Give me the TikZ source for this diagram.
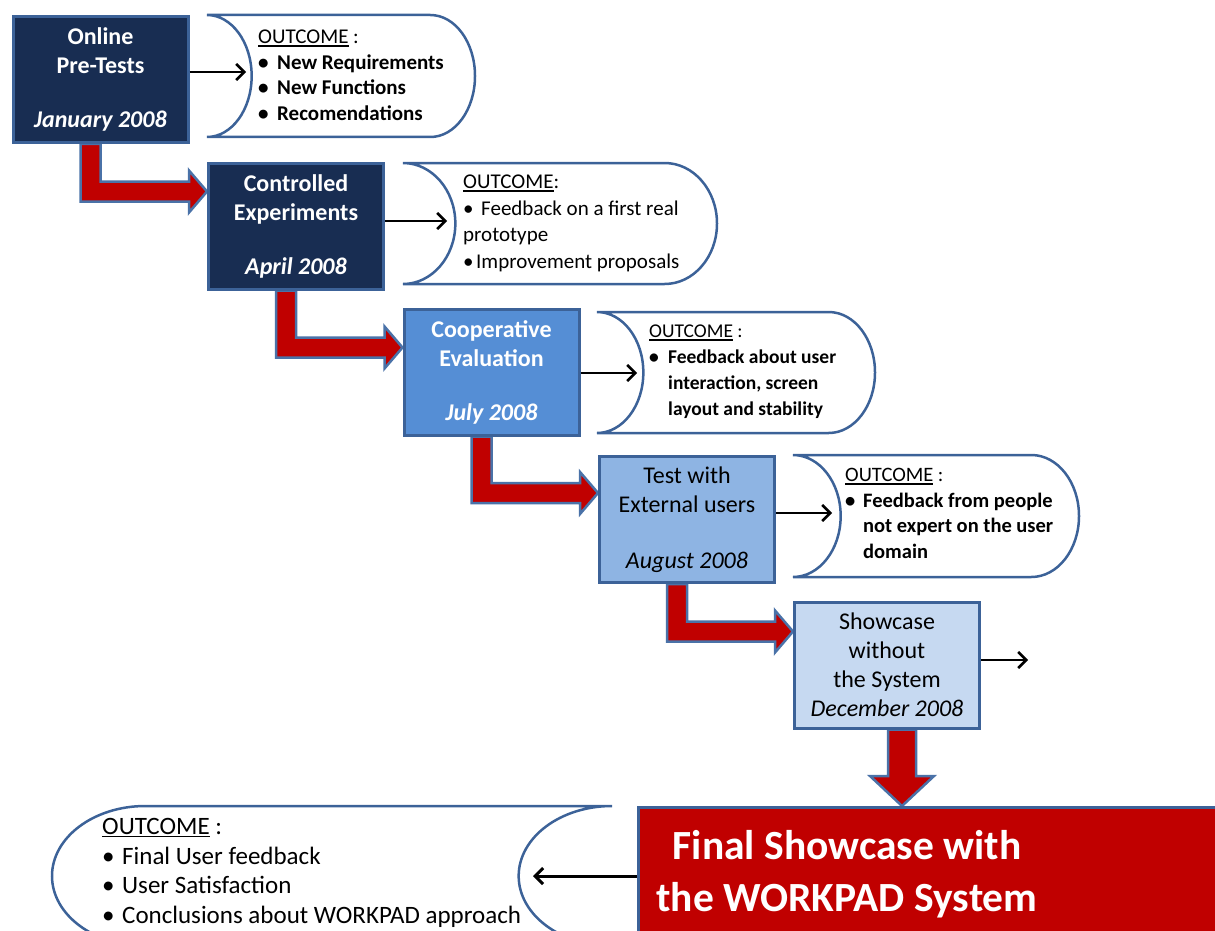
\documentclass[tikz,border=0pt]{standalone}
\usepackage{fontspec}
\setmainfont{Carlito}
\usetikzlibrary{arrows.meta,calc,backgrounds}
\definecolor{navy}{HTML}{182D52}
\definecolor{edge}{HTML}{3C6298}
\definecolor{midblue}{HTML}{558ED5}
\definecolor{lightblue}{HTML}{8EB4E3}
\definecolor{paleblue}{HTML}{C6D9F1}
\definecolor{darkred}{HTML}{C00000}
\definecolor{arrowedge}{HTML}{4A72A8}
\newcommand\bl[1][19pt]{\makebox[#1][l]{\textbullet}}
\newcommand\uline[1]{\setbox0\hbox{#1}\rlap{\rule[-3pt]{\wd0}{1.6pt}}\box0}
\newcommand\outshape[4]{% L T R B (y downward), mirrored stored-data shape
  \pgfmathsetmacro\orx{(#3-#1)/6}\pgfmathsetmacro\ory{(#4-#2)/2}
  \draw[outline] (#1,-#2) -- ({#3-\orx},-#2)
     arc[start angle=90,end angle=-90,x radius=\orx pt,y radius=\ory pt]
     -- (#1,-#4)
     arc[start angle=-90,end angle=90,x radius=\orx pt,y radius=\ory pt] -- cycle;}
\newcommand\elbow[3]{%
  \path[redarrow] let \p1=(#1.south), \p2=([yshift=-#3pt]#2.north west) in
   (\x1-20,\y1) -- (\x1-20,\y2-10) -- (\x2-18,\y2-10) -- (\x2-18,\y2-21) -- (\x2,\y2)
   -- (\x2-18,\y2+21) -- (\x2-18,\y2+10) -- (\x1,\y2+10) -- (\x1,\y1) -- cycle;}
\begin{document}
\begin{tikzpicture}[x=1pt,y=1pt,
  stage/.style={rectangle, draw=edge, line width=3pt, minimum width=175pt,
    minimum height=126pt, align=center, inner sep=0pt,
    font=\fontsize{24}{29}\selectfont},
  darkstage/.style={stage, fill=navy, text=white,
    font=\fontsize{24}{29}\selectfont\bfseries},
  outline/.style={draw=edge, line width=2.5pt, fill=white},
  outtext/.style={anchor=north west, align=left, inner sep=0pt},
  link/.style={line width=2.6pt, -{Straight Barb[length=8pt,width=16pt]}},
  redarrow/.style={fill=darkred, draw=arrowedge, line width=2.5pt, line join=miter}]
\useasboundingbox (0,0) rectangle (1215,-931);
\clip (0,0) rectangle (1215,-931);

% stage boxes
\node[darkstage] (b1) at (100.5,-79.5) {Online\\Pre-Tests\\[25pt]\textit{January 2008}};
\node[darkstage] (b2) at (296,-226) {Controlled\\Experiments\\[25pt]\textit{April 2008}};
\node[stage, fill=midblue, text=white, font=\fontsize{24}{29}\selectfont\bfseries] (b3) at (491.5,-372) {Cooperative\\Evaluation\\[25pt]\textit{July 2008}};
\node[stage, fill=lightblue] (b4) at (687,-519.5) {Test with\\External users\\[27pt]\textit{August 2008}};
\node[stage, fill=paleblue, minimum width=185pt] (b5) at (887,-665) {Showcase\\without\\the System\\\textit{December 2008}};
\node[rectangle, draw=edge, line width=3pt, fill=darkred, minimum width=600pt,
  minimum height=140pt, anchor=north west] (fin) at (637,-806) {};
\node[font=\fontsize{41.5}{52}\selectfont\bfseries, text=white, align=center] (fint) at (847,-874) {Final Showcase with\\the WORKPAD System};

% outcome shapes
\outshape{207}{15}{475}{137}
\outshape{403}{163}{717}{284}
\outshape{597}{312}{875}{433}
\outshape{793}{455}{1079}{577}
\pgfmathsetmacro\frx{(612-52)/6}
\draw[outline] ({52+\frx},-806) -- (612,-806)
  arc[start angle=90,end angle=270,x radius=\frx pt,y radius=70pt]
  -- ({52+\frx},-946)
  arc[start angle=270,end angle=90,x radius=\frx pt,y radius=70pt] -- cycle;

% outcome texts
\node[outtext, font=\fontsize{21}{25.5}\selectfont\bfseries] (t1) at (258,-30)
  {\uline{\mdseries OUTCOME}\mdseries\ :\\\bl New Requirements\\\bl New Functions\\\bl Recomendations};
\node[outtext, font=\fontsize{21}{26.5}\selectfont] (t2) at (463,-175)
  {\uline{OUTCOME}:\\\bl[18pt]Feedback on a first real\\prototype\\\bl[13pt]Improvement proposals};
\node[outtext, font=\fontsize{19.5}{26}\selectfont\bfseries] (t3) at (649,-325)
  {\uline{\mdseries OUTCOME}\mdseries\ :\\\bl Feedback about user\\\hspace*{19pt}interaction, screen\\\hspace*{19pt}layout and stability};
\node[outtext, font=\fontsize{20.5}{25.7}\selectfont\bfseries] (t4) at (845,-468)
  {\uline{\mdseries OUTCOME}\mdseries\ :\\\bl[18pt]Feedback from people\\\hspace*{18pt}not expert on the user\\\hspace*{18pt}domain};
\node[outtext, font=\fontsize{25}{29.7}\selectfont] (tf) at (102,-818)
  {\uline{OUTCOME}\ :\\\bl[20pt]Final User feedback\\\bl[20pt]User Satisfaction\\\bl[20pt]Conclusions about WORKPAD approach};

% black connectors
\coordinate (o1in) at (246,-72);
\coordinate (o2in) at (447,-221);
\coordinate (o3in) at (637,-373);
\coordinate (o4in) at (832,-513);
\coordinate (o5out) at (1028,-660);
\coordinate (finout) at (533,-876);
\draw[link] (b1.east |- o1in) -- (o1in);
\draw[link] (b2.east |- o2in) -- (o2in);
\draw[link] (b3.east |- o3in) -- (o3in);
\draw[link] (b4.east |- o4in) -- (o4in);
\draw[link] (b5.east |- o5out) -- (o5out);
\draw[link, line width=3pt] (fin.west |- finout) -- (finout);

% red block arrows
\begin{scope}[on background layer]
\elbow{b1}{b2}{30}
\elbow{b2}{b3}{40}
\elbow{b3}{b4}{38}
\elbow{b4}{b5}{31}
\path[redarrow] let \p1=(b5.south), \p2=(fin.north) in
  (\x1+1,\y1) -- (\x1+1,\y2+30) -- (\x1-17,\y2+30) -- (\x1+15,\y2)
  -- (\x1+47,\y2+30) -- (\x1+29,\y2+30) -- (\x1+29,\y1) -- cycle;
\end{scope}
\end{tikzpicture}
\end{document}
